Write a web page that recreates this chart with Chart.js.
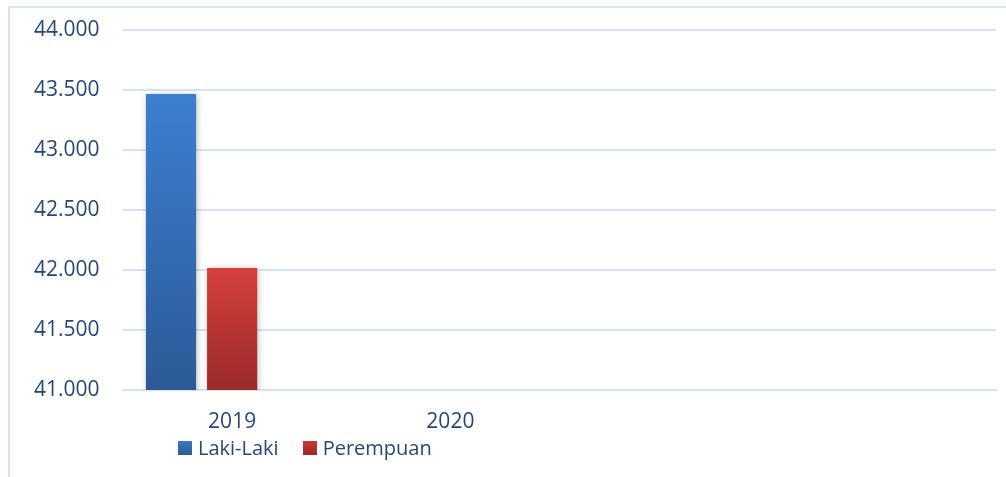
<!DOCTYPE html>
<html>
<head>
<meta charset="utf-8">
<script src="https://cdn.jsdelivr.net/npm/chart.js@4/dist/chart.umd.min.js"></script>
<style>
  html, body { margin: 0; padding: 0; background: #ffffff; }
  #wrap { position: relative; width: 1006px; height: 477px; overflow: hidden; }
  #frame { position: absolute; left: 8px; top: 6px; width: 1010px; height: 490px; border: 2px solid #dce6f3; box-sizing: border-box; }
  canvas { position: absolute; left: 0; top: 0; }
  #legend { position: absolute; top: 434px; left: 178px; font-family: "Open Sans", sans-serif; font-size: 20px; color: #254879; display: flex; align-items: center; white-space: nowrap; }
  .item { display: flex; align-items: center; margin-right: 24px; }
  .sw { width: 14px; height: 14px; margin-right: 6px; }
</style>
</head>
<body>
<div id="wrap">
  <div id="frame"></div>
  <canvas id="c" width="1006" height="477"></canvas>
  <div id="legend"></div>
</div>
<script>
const categories = ['2019', '2020', '', ''];
const lakiLaki = [43467, null, null, null];
const perempuan = [42017, null, null, null];
const seriesKosong = [null, null, null, null];
const seriesNames = ['Laki-Laki', 'Perempuan', ''];
const yMin = 41000, yMax = 44000, yStep = 500;

const TEXT = '#254879';
const GRID = '#d6e3f4';

function fmt(v) {
  return String(v).replace(/\B(?=(\d{3})+(?!\d))/g, '.');
}

function barGradient(top, bottom) {
  return function (ctx) {
    const chart = ctx.chart;
    const area = chart.chartArea;
    if (!area || ctx.parsed == null || ctx.parsed.y == null) return top;
    const y = chart.scales.y;
    const y0 = y.getPixelForValue(ctx.parsed.y);
    const y1 = y.getPixelForValue(yMin);
    const g = chart.ctx.createLinearGradient(0, y0, 0, y1);
    g.addColorStop(0, top);
    g.addColorStop(1, bottom);
    return g;
  };
}

const shadowPlugin = {
  id: 'barShadow',
  beforeDatasetsDraw(chart) {
    const c = chart.ctx;
    c.save();
    c.shadowColor = 'rgba(0,0,0,0.28)';
    c.shadowBlur = 6;
    c.shadowOffsetX = 1;
    c.shadowOffsetY = 1;
  },
  afterDatasetsDraw(chart) {
    chart.ctx.restore();
  }
};

const swatchColors = ['#3a78c6', '#c83735'];

const chart = new Chart(document.getElementById('c'), {
  type: 'bar',
  data: {
    labels: categories,
    datasets: [
      { label: seriesNames[0], data: lakiLaki, backgroundColor: barGradient('#3c7fd0', '#2c5a97') },
      { label: seriesNames[1], data: perempuan, backgroundColor: barGradient('#d6403d', '#9a2a28') },
      { label: seriesNames[2], data: seriesKosong, backgroundColor: '#8db33a' }
    ]
  },
  options: {
    responsive: false,
    animation: false,
    devicePixelRatio: 1,
    layout: { padding: { left: 34, right: 10, top: 30, bottom: 0 } },
    datasets: { bar: { categoryPercentage: 0.84, barPercentage: 0.82 } },
    plugins: {
      legend: { display: false },
      tooltip: { enabled: false }
    },
    scales: {
      x: {
        grid: { display: false, drawTicks: false },
        border: { display: true, color: GRID, width: 2 },
        ticks: { color: TEXT, font: { family: 'Open Sans', size: 21 }, padding: 19, maxRotation: 0, autoSkip: false },
        afterFit(s) { s.height = 87; }
      },
      y: {
        min: yMin, max: yMax,
        grid: { color: GRID, lineWidth: 2, drawTicks: false },
        border: { display: false },
        ticks: { stepSize: yStep, color: TEXT, font: { family: 'Open Sans', size: 21 }, padding: 0, crossAlign: 'far', callback: v => fmt(v) },
        afterFit(s) { s.width = 89; }
      }
    }
  },
  plugins: [shadowPlugin]
});

const legend = document.getElementById('legend');
[0, 1].forEach(i => {
  const it = document.createElement('div');
  it.className = 'item';
  const sw = document.createElement('div');
  sw.className = 'sw';
  sw.style.background = 'linear-gradient(' + swatchColors[i] + ',' + (i === 0 ? '#2c5a97' : '#9a2a28') + ')';
  const t = document.createElement('span');
  t.textContent = chart.data.datasets[i].label;
  it.appendChild(sw);
  it.appendChild(t);
  legend.appendChild(it);
});
</script>
</body>
</html>
